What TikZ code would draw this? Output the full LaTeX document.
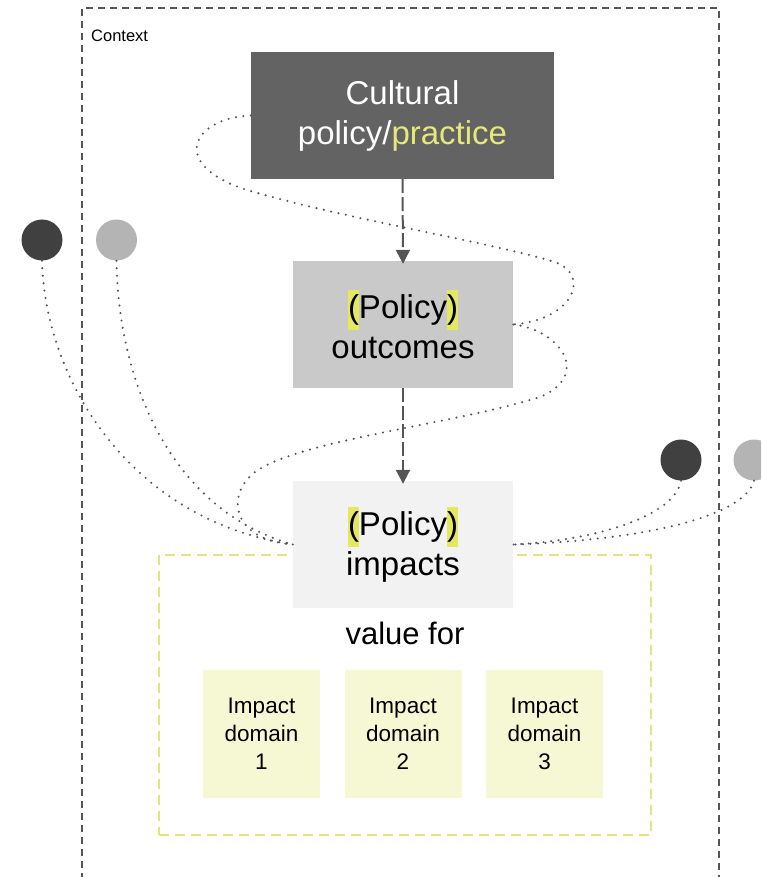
\documentclass[tikz,border=0pt]{standalone}
\usepackage{fontspec}
\setmainfont{Liberation Sans}
\usetikzlibrary{arrows.meta}
\definecolor{boxdark}{HTML}{636363}
\definecolor{boxmid}{HTML}{C9C9C9}
\definecolor{boxlight}{HTML}{F2F2F2}
\definecolor{domainfill}{HTML}{F6F8D4}
\definecolor{hlyellow}{HTML}{E3E85E}
\definecolor{practiceyellow}{HTML}{E6E878}
\definecolor{framegray}{HTML}{555555}
\definecolor{dotgray}{HTML}{555555}
\definecolor{framey}{HTML}{E2E67A}
\definecolor{circdark}{HTML}{404040}
\definecolor{circlight}{HTML}{B4B4B4}
\newcommand\hlparen[1]{{\setlength\fboxsep{0pt}\colorbox{hlyellow}{\strut #1}}}
\tikzset{
  ctxframe/.style={draw=framegray, line width=1.8pt, dash pattern=on 7pt off 5pt},
  yframe/.style={draw=framey, line width=1.5pt, dash pattern=on 10pt off 6pt, inner sep=0pt},
  bigbox/.style={inner sep=0pt, align=center, font=\fontsize{33}{40}\selectfont},
  domainbox/.style={fill=domainfill, minimum width=117pt, minimum height=128pt, inner sep=0pt, align=center, font=\fontsize{22.5}{28}\selectfont},
  flowarrow/.style={draw=framegray, line width=2pt, dash pattern=on 14pt off 4pt, -{Triangle[length=14pt,width=14pt]}},
  dotline/.style={draw=dotgray, line width=2.3pt, line cap=round, dash pattern=on 0pt off 7.5pt},
  blob/.style={circle, minimum size=41pt, inner sep=0pt},
}
\begin{document}
\begin{tikzpicture}[x=1pt,y=-1pt]
\useasboundingbox (0,0) rectangle (761,877);
\begin{scope}
\clip (0,0) rectangle (761,877);
% context frame
\coordinate (cbl) at (82,880);
\coordinate (ctl) at (82,8);
\coordinate (ctr) at (719,8);
\coordinate (cbr) at (719,880);
\draw[ctxframe] (cbl) -- (ctl) -- (ctr) -- (cbr);
\node[anchor=west, inner sep=0pt, font=\fontsize{16.5}{20}\selectfont] (ctx) at (91,36) {Context};

% yellow value frame
\node[yframe, minimum width=492pt, minimum height=280pt] (vf) at (405,695) {};

% main boxes
\node[bigbox, fill=boxdark, text=white, minimum width=303pt, minimum height=127pt] (cp) at (402.5,115.5) {\raisebox{-3pt}{\strut}Cultural\\policy/\textcolor{practiceyellow}{practice}};
\node[bigbox, fill=boxmid, text=black, minimum width=220pt, minimum height=127pt] (out) at (403,324.5) {\hlparen{(}Policy\hlparen{)}\\outcomes};
\node[bigbox, fill=boxlight, text=black, minimum width=220pt, minimum height=127pt] (imp) at (403,544.5) {\hlparen{(}Policy\hlparen{)}\\impacts};

\node[inner sep=0pt, font=\fontsize{31}{36}\selectfont] (vfor) at (405,633) {value for};

\node[domainbox] (d1) at (261.5,734) {Impact\\domain\\1};
\node[domainbox] (d2) at (403,734) {Impact\\domain\\2};
\node[domainbox] (d3) at (544.5,734) {Impact\\domain\\3};

% arrows
\draw[flowarrow] (cp.south) -- ([yshift=-3pt]out.north);
\draw[flowarrow] (out.south) -- ([yshift=-3pt]imp.north);

% circles
\node[blob, fill=circdark] (l1) at (42,240) {};
\node[blob, fill=circlight] (l2) at (116.5,240) {};
\node[blob, fill=circdark] (r1) at (681,460) {};
\node[blob, fill=circlight] (r2) at (754,460) {};

% dotted curves
\draw[dotline] (cp.west) .. controls (192,118) and (168,165) .. (247,190)
   .. controls (350,220) and (480,240) .. (555,262)
   .. controls (592,276) and (572,320) .. (out.east);
\draw[dotline] (out.east) .. controls (560,330) and (592,375) .. (540,397)
   .. controls (450,425) and (300,440) .. (255,472)
   .. controls (225,495) and (232,540) .. (imp.west);
\draw[dotline] (l1.south) .. controls (45,380) and (130,520) .. (imp.west);
\draw[dotline] (l2.south) .. controls (118,380) and (170,510) .. (imp.west);
\draw[dotline] (r1.south) .. controls (675,515) and (600,540) .. (imp.east);
\draw[dotline] (r2.south) .. controls (745,515) and (650,540) .. (imp.east);
\end{scope}
\end{tikzpicture}
\end{document}
